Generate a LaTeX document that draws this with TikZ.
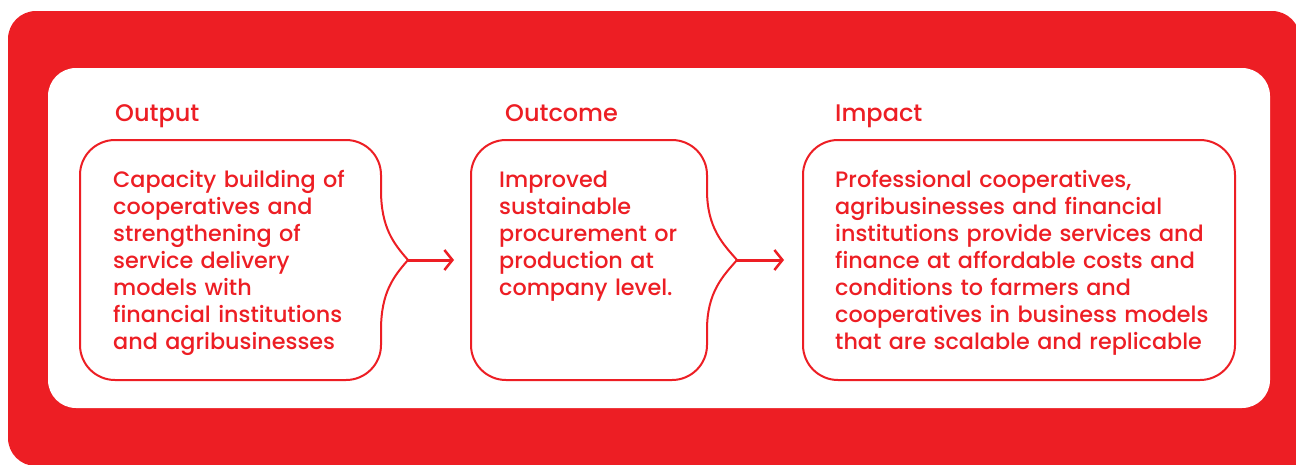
\documentclass[tikz,border=0pt]{standalone}
\usepackage{fontspec}
\setmainfont{Poppins}[UprightFont={* Medium}]
\usetikzlibrary{arrows.meta}
\definecolor{brand}{RGB}{237,30,36}
\begin{document}
\begin{tikzpicture}[x=1pt,y=-1pt,
  boxline/.style={draw=brand, line width=2pt},
  title/.style={anchor=base west, inner sep=0pt, text=brand, font=\fontsize{24}{27}\selectfont},
  body/.style={anchor=base west, inner sep=0pt, text=brand, align=left, text width=440pt, font=\fontsize{22.3}{27.1}\selectfont},
  flow/.style={draw=brand, line width=3pt, -{Straight Barb[length=8pt,width=20pt,line width=2.5pt]}}]
\useasboundingbox (0,0) rectangle (1296,464);
\clip (0,0) rectangle (1296,464);
% frames
\fill[brand, rounded corners=28pt] (8,11) rectangle (1300,466);
\fill[brand] (700,300) rectangle (1300,470);
\fill[white, rounded corners=28pt] (48,68) rectangle (1270,408);
% box 1
\coordinate (p1) at (408,260);
\draw[boxline] (381,190) .. controls (381,228) and (394,244) .. (p1)
  .. controls (394,276) and (381,292) .. (381,330)
  [rounded corners=35pt] -- (381,380) -- (80,380) -- (80,140) -- (381,140) [sharp corners] -- cycle;
% box 2
\coordinate (p2) at (737,260);
\draw[boxline] (707,190) .. controls (707,228) and (723,244) .. (p2)
  .. controls (723,276) and (707,292) .. (707,330)
  [rounded corners=35pt] -- (707,380) -- (471,380) -- (471,140) -- (707,140) [sharp corners] -- cycle;
\coordinate (b2w) at (471,260);
% box 3
\draw[boxline, rounded corners=35pt] (803,140) rectangle (1235,380);
\coordinate (b3w) at (803,260);
% arrows
\draw[flow] (p1) -- ([xshift=-17pt]b2w);
\draw[flow] (p2) -- ([xshift=-19pt]b3w);
% titles
\node[title] (t1) at (115,121) {Output};
\node[title] (t2) at (505,121) {Outcome};
\node[title] (t3) at (835,121) {Impact};
% bodies
\node[body] (x1) at (113,187) {Capacity building of\\cooperatives and\\strengthening of\\service delivery\\models with\\financial institutions\\and agribusinesses};
\node[body] (x2) at (499,187) {Improved\\sustainable\\procurement or\\production at\\company level.};
\node[body] (x3) at (835,187) {Professional cooperatives,\\agribusinesses and financial\\institutions provide services and\\finance at affordable costs and\\conditions to farmers and\\cooperatives in business models\\that are scalable and replicable};
\end{tikzpicture}
\end{document}
